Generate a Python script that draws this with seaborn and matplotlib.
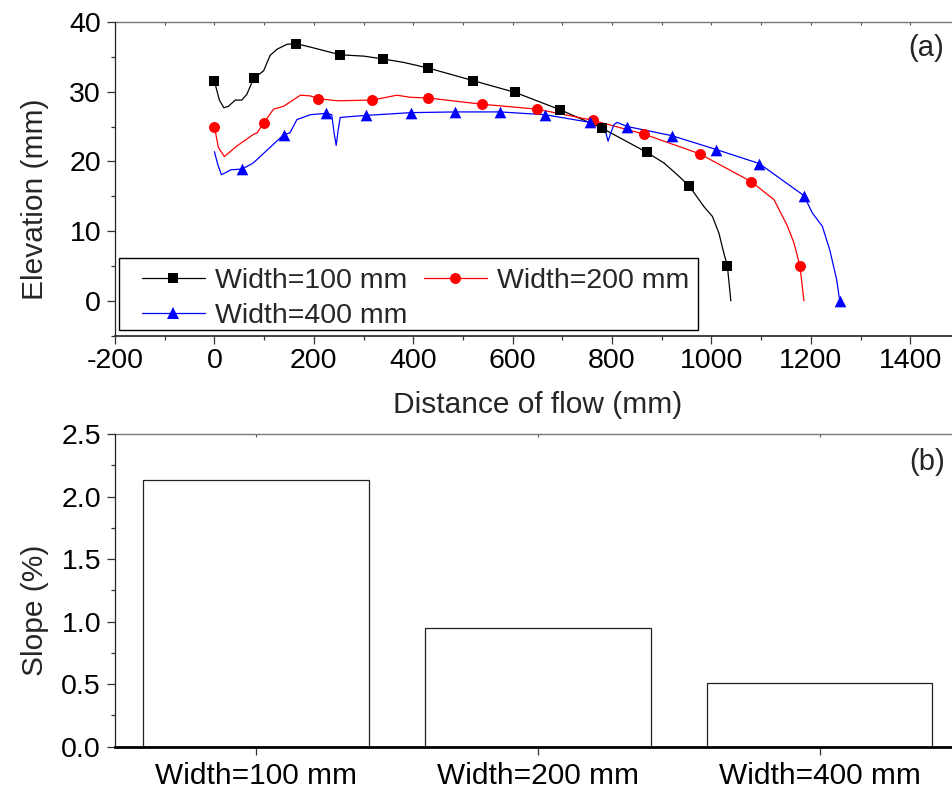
import numpy as np
import pandas as pd
import matplotlib
matplotlib.use("Agg")
import matplotlib.pyplot as plt
import seaborn as sns
from matplotlib.lines import Line2D
from matplotlib.patches import Rectangle
from matplotlib.ticker import MultipleLocator, FormatStrFormatter

# ---------------- data ----------------
series_labels = ["Width=100 mm", "Width=200 mm", "Width=400 mm"]

# Width=100 mm profile
w100_line_x = [0, 10, 19, 28, 42, 55, 65, 79, 99, 112, 126, 146, 164, 193, 253, 301, 339, 381, 430,
               520, 605, 696, 779, 870, 904, 931, 955, 985, 1002, 1015, 1025, 1032, 1039]
w100_line_y = [31.5, 28.8, 27.7, 27.9, 28.8, 28.8, 29.6, 31.9, 33.0, 35.2, 36.1, 36.8, 36.9, 36.4, 35.3, 35.1, 34.7, 34.2, 33.4,
               31.6, 29.9, 27.4, 24.8, 21.3, 19.8, 18.1, 16.5, 13.5, 12.1, 9.7, 6.8, 5.0, 0.0]
w100_mark_x = [0, 79, 164, 253, 339, 430, 520, 605, 696, 779, 870, 955, 1032]
w100_mark_y = [31.5, 31.9, 36.9, 35.3, 34.7, 33.4, 31.6, 29.9, 27.4, 24.8, 21.3, 16.5, 5.0]

# Width=200 mm profile
w200_line_x = [0, 8, 20, 45, 79, 86, 99, 119, 139, 173, 193, 209, 247, 318, 367, 394, 430,
               539, 649, 761, 865, 976, 1080, 1126, 1153, 1166, 1178, 1186]
w200_line_y = [25.0, 22.0, 20.7, 22.2, 23.9, 24.1, 25.5, 27.5, 27.9, 29.5, 29.4, 29.0, 28.7, 28.8, 29.5, 29.2, 29.1,
               28.2, 27.5, 25.9, 23.9, 21.1, 17.1, 14.5, 10.7, 8.3, 5.0, 0.0]
w200_mark_x = [0, 99, 209, 318, 430, 539, 649, 761, 865, 976, 1080, 1178]
w200_mark_y = [25.0, 25.5, 29.0, 28.8, 29.1, 28.2, 27.5, 25.9, 23.9, 21.1, 17.1, 5.0]

# Width=400 mm profile
w400_line_x = [0, 7, 14, 23, 33, 55, 74, 80, 139, 152, 166, 193, 225, 236, 241, 245, 249, 253, 268, 305,
               396, 485, 575, 665, 756, 783, 788, 792, 797, 804, 810, 831, 920, 1010, 1096, 1186,
               1203, 1223, 1238, 1252, 1258]
w400_line_y = [21.4, 19.5, 18.1, 18.4, 18.8, 18.9, 19.6, 19.9, 23.8, 24.1, 26.0, 26.7, 26.9, 26.7, 24.0, 22.3, 24.5, 26.3, 26.4, 26.6,
               27.0, 27.1, 27.1, 26.7, 25.6, 25.3, 24.0, 22.9, 24.0, 25.3, 25.6, 25.0, 23.7, 21.7, 19.7, 15.1,
               12.6, 10.7, 7.3, 3.0, 0.0]
w400_mark_x = [55, 139, 225, 305, 396, 485, 575, 665, 756, 831, 920, 1010, 1096, 1186, 1258]
w400_mark_y = [18.9, 23.8, 26.9, 26.6, 27.0, 27.1, 27.1, 26.7, 25.6, 25.0, 23.7, 21.7, 19.7, 15.1, 0.0]

# Slope per width
slope_labels = ["Width=100 mm", "Width=200 mm", "Width=400 mm"]
slope_values = [2.135, 0.951, 0.512]

x_ticks_a = [-200, 0, 200, 400, 600, 800, 1000, 1200, 1400]
y_ticks_a = [0, 10, 20, 30, 40]
y_ticks_b = [0.0, 0.5, 1.0, 1.5, 2.0, 2.5]

# ---------------- style ----------------
sns.set_style("ticks")
plt.rcParams['font.family'] = ['Liberation Sans', 'DejaVu Sans']
plt.rcParams['axes.unicode_minus'] = False
plt.rcParams['xtick.color'] = '#333333'
plt.rcParams['ytick.color'] = '#333333'
plt.rcParams['xtick.labelcolor'] = 'black'
plt.rcParams['ytick.labelcolor'] = 'black'

W, H = 953, 796
fig = plt.figure(figsize=(W / 100, H / 100), dpi=100)
fig.patch.set_facecolor('white')

ax1 = fig.add_axes([115 / W, 1 - 335.7 / H, 845 / W, 313.7 / H])
ax2 = fig.add_axes([115 / W, 1 - 746.7 / H, 845.6 / W, 312.7 / H])

colors = ['black', '#ff0000', '#0000ff']
markers = ['s', 'o', '^']
msizes = [7.2, 7.9, 8.4]
lines = [(w100_line_x, w100_line_y), (w200_line_x, w200_line_y), (w400_line_x, w400_line_y)]
marks = [(w100_mark_x, w100_mark_y), (w200_mark_x, w200_mark_y), (w400_mark_x, w400_mark_y)]

for (lx, ly), (mx, my), c, m, ms in zip(lines, marks, colors, markers, msizes):
    sns.lineplot(x=lx, y=ly, ax=ax1, color=c, linewidth=0.9, sort=False,
                 estimator=None, legend=False)
    sns.scatterplot(x=mx, y=my, ax=ax1, color=c, marker=m, s=ms ** 2,
                    linewidth=0, legend=False, zorder=3)

ax1.set_xlim(-200, 1500)
ax1.set_ylim(-5, 40)
ax1.set_xticks(x_ticks_a)
ax1.set_yticks(y_ticks_a)
ax1.xaxis.set_minor_locator(MultipleLocator(100))
ax1.yaxis.set_minor_locator(MultipleLocator(5))
ax1.tick_params(axis='both', which='major', length=6, width=0.9, direction='out')
ax1.tick_params(axis='both', which='minor', length=3, width=0.9, direction='out')
ax1.tick_params(axis='x', labelsize=20.5, pad=3)
ax1.tick_params(axis='y', labelsize=20.5, pad=4)
ax1.set_xlabel("Distance of flow (mm)", fontsize=21.5)
ax1.set_ylabel("Elevation (mm)", fontsize=21.5)
ax1.xaxis.set_label_coords(0.5, -0.176)
ax1.yaxis.set_label_coords(-0.078, 0.434)
ax1.spines['top'].set_visible(False)
ax1.spines['right'].set_visible(False)
ax1.spines['left'].set_linewidth(0.9)
ax1.spines['left'].set_color('#222222')
ax1.spines['bottom'].set_linewidth(1.3)
ax1.spines['bottom'].set_color('#333333')

sec1 = ax1.secondary_xaxis('top')
sec1.set_xticks(np.arange(-200, 1501, 100))
sec1.tick_params(direction='in', length=2, width=0.8, labeltop=False, color='#555555')
sec1.spines['top'].set_color('#777777')
sec1.spines['top'].set_linewidth(1.0)

# legend: frame drawn as a separate box, entries placed inside it
ax1.add_patch(Rectangle((0.0047, 0.018), 0.685, 0.2295, transform=ax1.transAxes,
                        facecolor='white', edgecolor='black', linewidth=1.0, zorder=4))
handles = []
for c, m, ms in zip(colors, markers, msizes):
    handles.append(Line2D([], [], color=c, linewidth=0.9, marker=m, markersize=ms,
                          markeredgewidth=0))
order = [0, 2, 1]
leg = ax1.legend([handles[i] for i in order], [series_labels[i] for i in order],
                 ncol=2, loc='center left', bbox_to_anchor=(0.032, 0.119),
                 borderaxespad=0, frameon=False, fontsize=20.5,
                 handlelength=2.2, handletextpad=0.35, columnspacing=0.6,
                 borderpad=0, labelspacing=0.3)
leg.set_zorder(5)

ax1.text(0.981, 0.917, "(a)", transform=ax1.transAxes, ha='right', va='center', fontsize=21)

# ---------------- panel b ----------------
df = pd.DataFrame({"label": slope_labels, "slope": slope_values})
sns.barplot(data=df, x="label", y="slope", ax=ax2, color='white', saturation=1,
            edgecolor='#222222', linewidth=0.9, width=0.8, errorbar=None)
ax2.set_xlim(-0.5, 2.5)
ax2.set_ylim(0, 2.5)
ax2.set_yticks(y_ticks_b)
ax2.yaxis.set_major_formatter(FormatStrFormatter('%.1f'))
ax2.yaxis.set_minor_locator(MultipleLocator(0.25))
ax2.tick_params(axis='both', which='major', length=6, width=0.9, direction='out')
ax2.tick_params(axis='y', which='minor', length=3, width=0.9, direction='out')
ax2.tick_params(axis='x', labelsize=21.5, pad=5)
ax2.tick_params(axis='y', labelsize=20.5, pad=4)
ax2.set_xlabel("")
ax2.set_ylabel("Slope (%)", fontsize=21.5)
ax2.yaxis.set_label_coords(-0.078, 0.4346)
ax2.spines['top'].set_visible(False)
ax2.spines['right'].set_visible(False)
ax2.spines['left'].set_linewidth(0.9)
ax2.spines['left'].set_color('#222222')
ax2.spines['bottom'].set_linewidth(2.0)
ax2.spines['bottom'].set_color('black')

sec2 = ax2.secondary_xaxis('top')
sec2.set_xticks([0, 1, 2])
sec2.tick_params(direction='in', length=2, width=0.8, labeltop=False, color='#555555')
sec2.spines['top'].set_color('#777777')
sec2.spines['top'].set_linewidth(1.0)

ax2.text(0.981, 0.910, "(b)", transform=ax2.transAxes, ha='right', va='center', fontsize=21)

fig.savefig("out.png", dpi=100, facecolor='white')
